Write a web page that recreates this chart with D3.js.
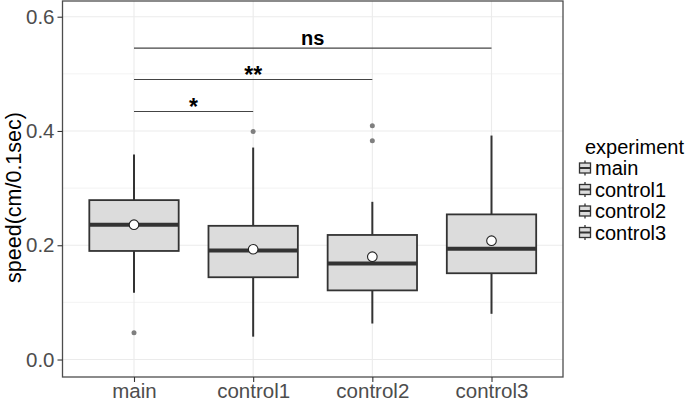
<!DOCTYPE html>
<html>
<head>
<meta charset="utf-8">
<script src="https://cdn.jsdelivr.net/npm/d3@7"></script>
<style>
  body { margin: 0; background: #fff; }
  svg { font-family: "Liberation Sans", Arial, sans-serif; }
</style>
</head>
<body>
<svg id="chart" width="685" height="399"></svg>
<script>
// values
const groups = ["main", "control1", "control2", "control3"];
const q1 = [0.190, 0.144, 0.121, 0.151];
const medians = [0.236, 0.191, 0.168, 0.194];
const q3 = [0.279, 0.234, 0.218, 0.254];
const whiskerLow = [0.117, 0.040, 0.063, 0.080];
const whiskerHigh = [0.359, 0.371, 0.276, 0.392];
const means = [0.236, 0.193, 0.180, 0.208];
const outliers = [[0.047], [0.399], [0.409, 0.383], []];

const brackets = [
  { from: "main", to: "control1", y: 0.434, label: "*" },
  { from: "main", to: "control2", y: 0.490, label: "**" },
  { from: "main", to: "control3", y: 0.545, label: "ns" }
];
const yTicks = [0, 0.2, 0.4, 0.6];
const yMinor = [0.1, 0.3, 0.5];

const svg = d3.select("#chart");
const panel = { left: 62.5, right: 563, top: 1, bottom: 377 };

const x = d3.scalePoint().domain(groups).range([panel.left, panel.right]).padding(0.6);
const y = d3.scaleLinear().domain([-0.0306, 0.6275]).range([panel.bottom, panel.top]);
const boxW = x.step() * 0.75;

const dark = "#333333";
const gridCol = "#ebebeb";

// grid
svg.append("g").selectAll("line").data(yMinor).join("line")
  .attr("x1", panel.left).attr("x2", panel.right)
  .attr("y1", d => y(d)).attr("y2", d => y(d))
  .attr("stroke", gridCol).attr("stroke-width", 0.6);
svg.append("g").selectAll("line").data(yTicks).join("line")
  .attr("x1", panel.left).attr("x2", panel.right)
  .attr("y1", d => y(d)).attr("y2", d => y(d))
  .attr("stroke", gridCol).attr("stroke-width", 1.1);
svg.append("g").selectAll("line").data(groups).join("line")
  .attr("x1", d => x(d)).attr("x2", d => x(d))
  .attr("y1", panel.top).attr("y2", panel.bottom)
  .attr("stroke", gridCol).attr("stroke-width", 1.1);

// boxplots
const rows = groups.map((g, i) => ({ g, i }));
const box = svg.append("g").selectAll("g").data(rows).join("g");

box.append("line")
  .attr("x1", d => x(d.g)).attr("x2", d => x(d.g))
  .attr("y1", d => y(whiskerHigh[d.i])).attr("y2", d => y(q3[d.i]))
  .attr("stroke", dark).attr("stroke-width", 2);
box.append("line")
  .attr("x1", d => x(d.g)).attr("x2", d => x(d.g))
  .attr("y1", d => y(q1[d.i])).attr("y2", d => y(whiskerLow[d.i]))
  .attr("stroke", dark).attr("stroke-width", 2);
box.append("rect")
  .attr("x", d => x(d.g) - boxW / 2).attr("width", boxW)
  .attr("y", d => y(q3[d.i])).attr("height", d => y(q1[d.i]) - y(q3[d.i]))
  .attr("fill", "#dcdcdc").attr("stroke", dark).attr("stroke-width", 1.8);
box.append("line")
  .attr("x1", d => x(d.g) - boxW / 2).attr("x2", d => x(d.g) + boxW / 2)
  .attr("y1", d => y(medians[d.i])).attr("y2", d => y(medians[d.i]))
  .attr("stroke", dark).attr("stroke-width", 4);

box.selectAll("circle.out").data(d => outliers[d.i].map(v => ({ g: d.g, v }))).join("circle")
  .attr("class", "out")
  .attr("cx", d => x(d.g)).attr("cy", d => y(d.v)).attr("r", 2.5)
  .attr("fill", "#7f7f7f");

box.append("circle")
  .attr("cx", d => x(d.g)).attr("cy", d => y(means[d.i])).attr("r", 4.8)
  .attr("fill", "#fff").attr("stroke", "#222").attr("stroke-width", 1.1);

// significance brackets
const sig = svg.append("g").selectAll("g").data(brackets).join("g");
sig.append("line")
  .attr("x1", d => x(d.from)).attr("x2", d => x(d.to))
  .attr("y1", d => y(d.y)).attr("y2", d => y(d.y))
  .attr("stroke", "#444").attr("stroke-width", 1.1);
sig.append("text")
  .attr("x", d => (x(d.from) + x(d.to)) / 2)
  .attr("y", d => y(d.y) + (d.label === "ns" ? -3 : 3))
  .attr("text-anchor", "middle")
  .attr("font-weight", "bold")
  .attr("font-size", d => d.label === "ns" ? 20 : 23)
  .attr("fill", "#000")
  .text(d => d.label);

// panel border
svg.append("rect")
  .attr("x", panel.left).attr("y", panel.top)
  .attr("width", panel.right - panel.left).attr("height", panel.bottom - panel.top)
  .attr("fill", "none").attr("stroke", "#4d4d4d").attr("stroke-width", 1.3);

// axes
const yAxis = svg.append("g")
  .attr("transform", `translate(${panel.left},0)`)
  .call(d3.axisLeft(y).tickValues(yTicks).tickFormat(d3.format(".1f")).tickSize(5).tickPadding(3));
const xAxis = svg.append("g")
  .attr("transform", `translate(0,${panel.bottom})`)
  .call(d3.axisBottom(x).tickSize(5).tickPadding(1));
[yAxis, xAxis].forEach(a => {
  a.select(".domain").remove();
  a.selectAll(".tick line").attr("stroke", dark).attr("stroke-width", 1.1);
  a.selectAll(".tick text").attr("fill", "#4d4d4d").attr("font-size", 20.5)
    .attr("font-family", "Liberation Sans, Arial, sans-serif");
});

svg.append("text")
  .attr("transform", `translate(21,197.5) rotate(-90)`)
  .attr("text-anchor", "middle")
  .attr("font-size", 21.5)
  .attr("fill", "#000")
  .text("speed(cm/0.1sec)");

// legend
const legend = svg.append("g").attr("transform", "translate(579,0)");
legend.append("text").attr("x", 6).attr("y", 154)
  .attr("font-size", 20).attr("fill", "#000").text("experiment");
const item = legend.selectAll("g.item").data(groups).join("g")
  .attr("class", "item")
  .attr("transform", (d, i) => `translate(0,${168 + i * 21.5})`);
item.append("line").attr("x1", 6).attr("x2", 6).attr("y1", -7.5).attr("y2", 7.5)
  .attr("stroke", dark).attr("stroke-width", 1.3);
item.append("rect").attr("x", 0.5).attr("y", -5).attr("width", 11).attr("height", 10)
  .attr("fill", "#dcdcdc").attr("stroke", dark).attr("stroke-width", 1.3);
item.append("line").attr("x1", 0.5).attr("x2", 11.5).attr("y1", 0).attr("y2", 0)
  .attr("stroke", dark).attr("stroke-width", 2);
item.append("text").attr("x", 16).attr("y", 7)
  .attr("font-size", 20).attr("fill", "#000").text(d => d);
</script>
</body>
</html>
